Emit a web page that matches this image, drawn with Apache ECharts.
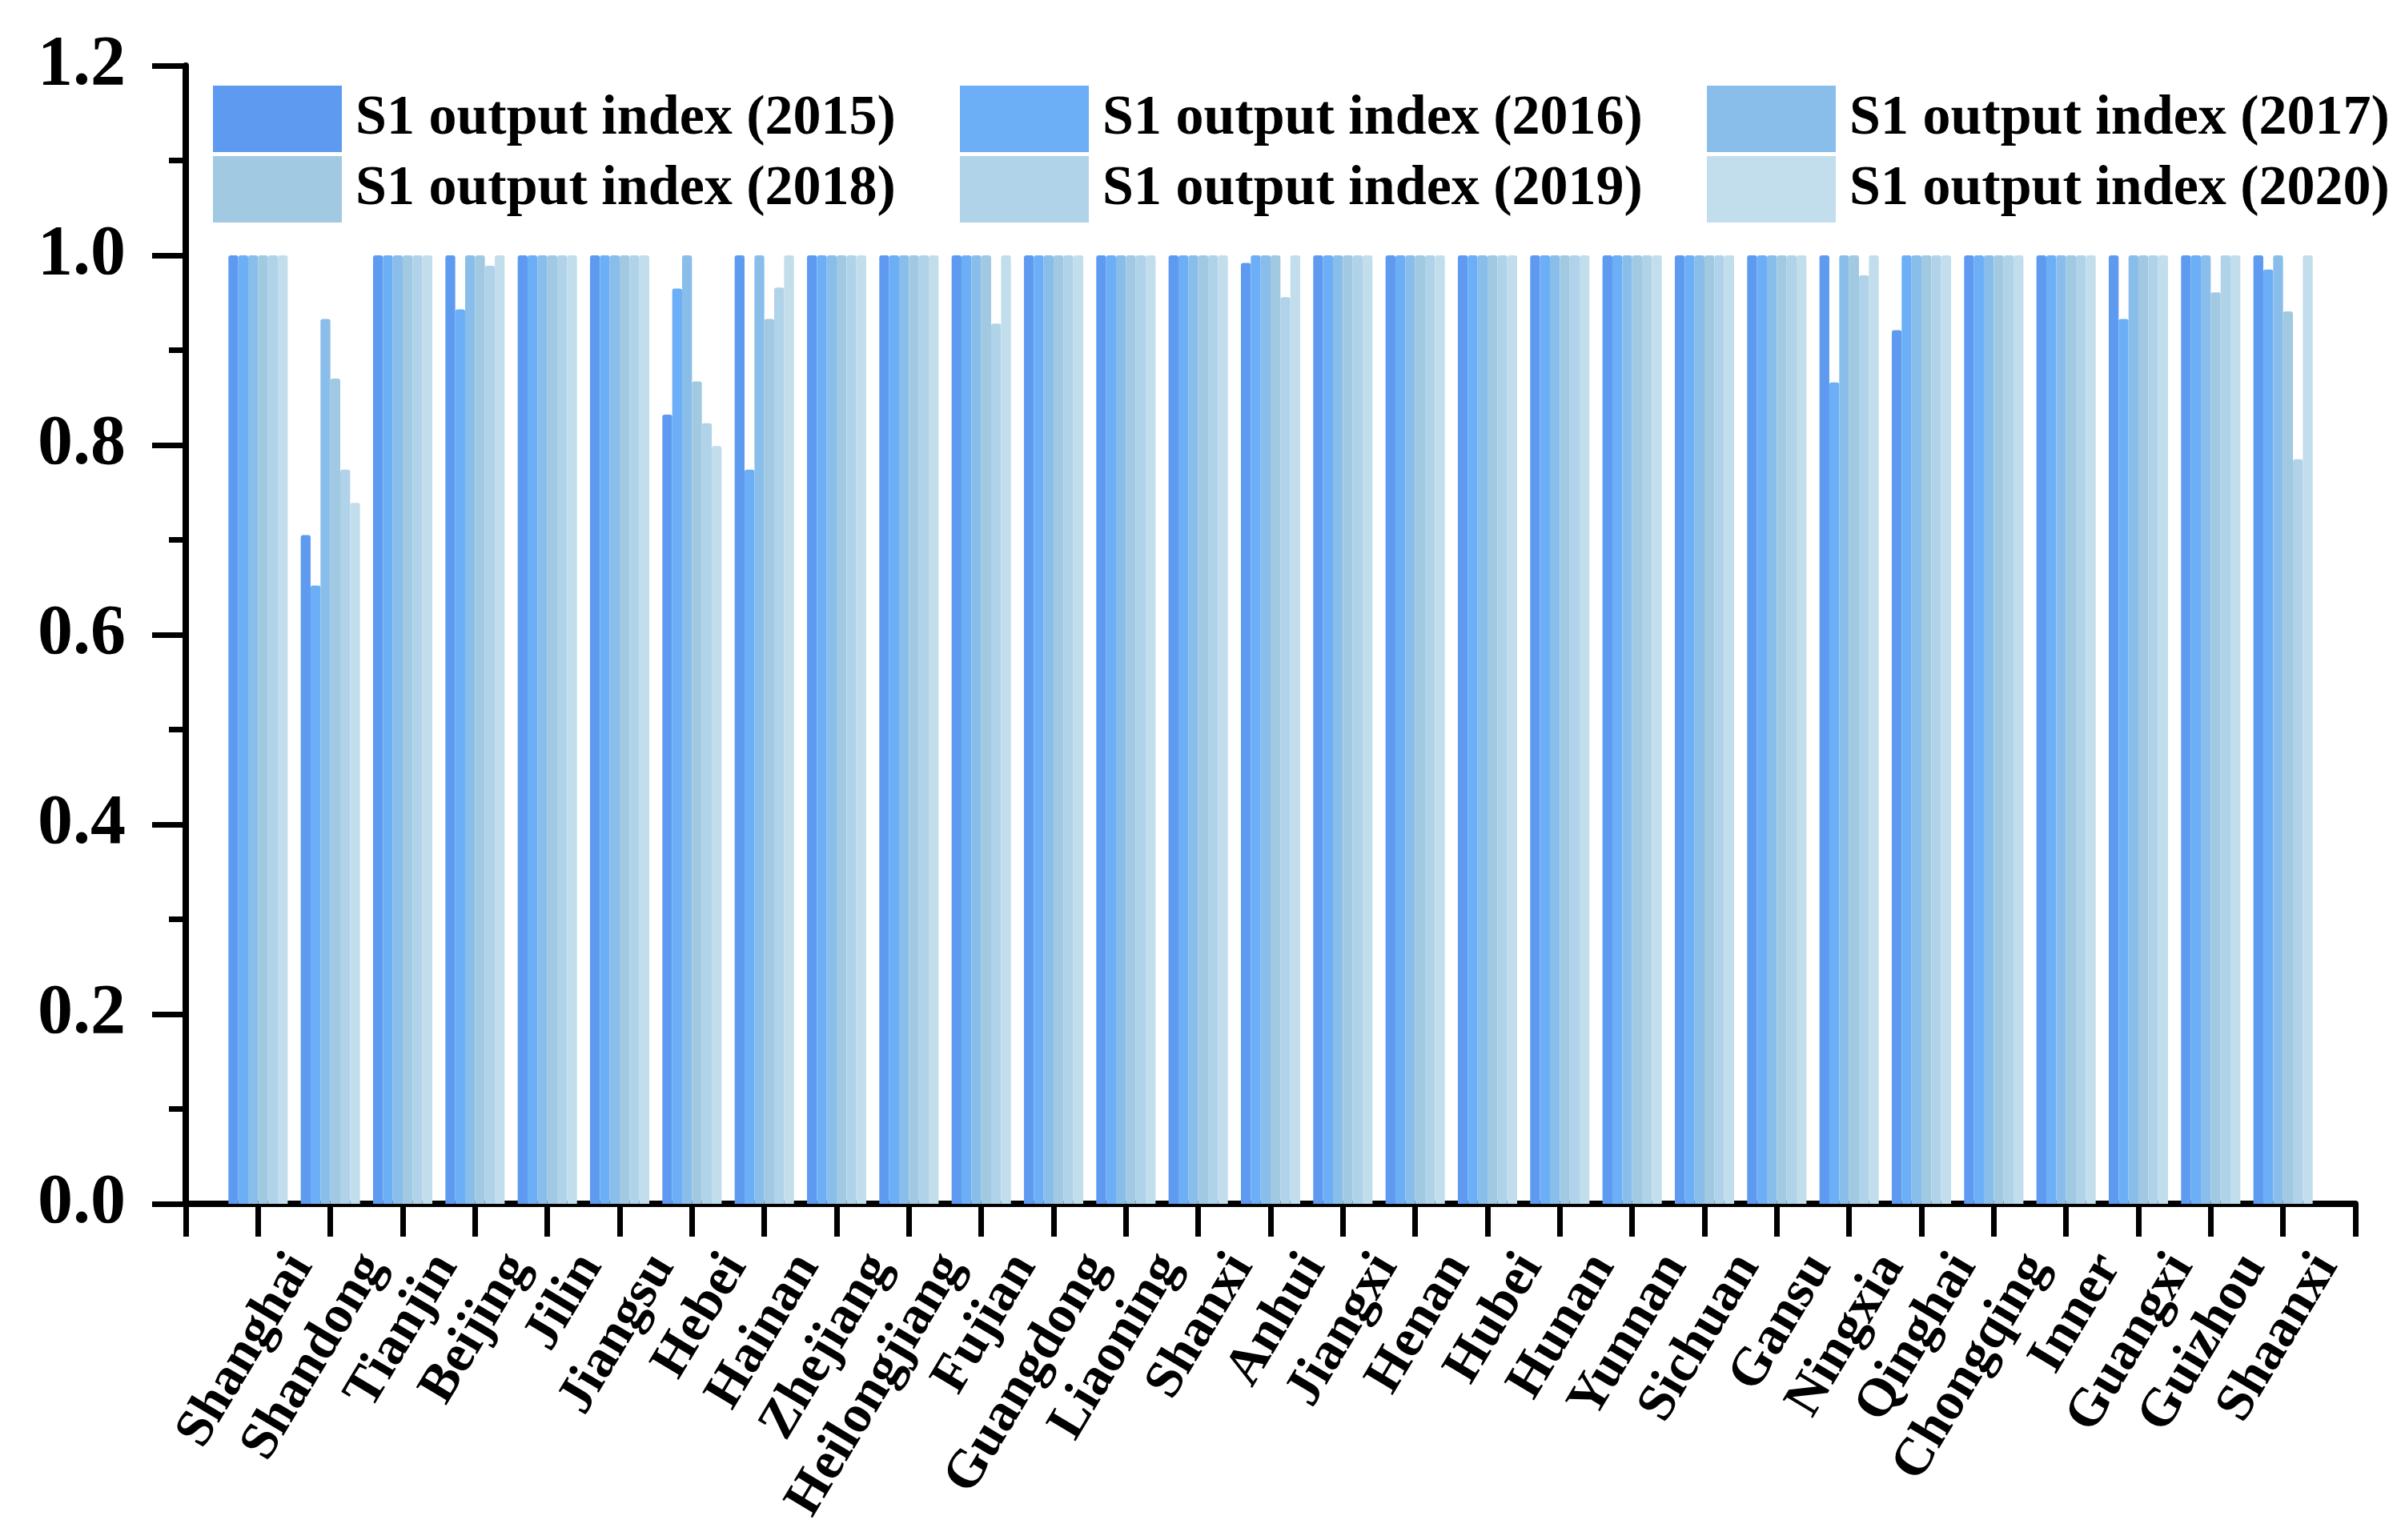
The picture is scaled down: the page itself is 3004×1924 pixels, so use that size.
<!DOCTYPE html>
<html>
<head>
<meta charset="utf-8">
<script src="https://cdn.jsdelivr.net/npm/echarts@6/dist/echarts.min.js"></script>
<style>
html,body{margin:0;padding:0;background:#fff;}
#chart{width:3004px;height:1924px;}
</style>
</head>
<body>
<div id="chart"></div>
<script>
// ---- data ----
var provinces = ['Shanghai','Shandong','Tianjin','Beijing','Jilin','Jiangsu','Hebei','Hainan','Zhejiang','Heilongjiang','Fujian','Guangdong','Liaoning','Shanxi','Anhui','Jiangxi','Henan','Hubei','Hunan','Yunnan','Sichuan','Gansu','Ningxia','Qinghai','Chongqing','Inner','Guangxi','Guizhou','Shaanxi'];
var seriesNames = ['S1 output index (2015)','S1 output index (2016)','S1 output index (2017)','S1 output index (2018)','S1 output index (2019)','S1 output index (2020)'];
var v2015 = [1,0.705,1,1,1,1,0.832,1,1,1,1,1,1,1,0.992,1,1,1,1,1,1,1,1,0.921,1,1,1,1,1];
var v2016 = [1,0.652,1,0.943,1,1,0.965,0.774,1,1,1,1,1,1,1,1,1,1,1,1,1,1,0.866,1,1,1,0.933,1,0.985];
var v2017 = [1,0.933,1,1,1,1,1,1,1,1,1,1,1,1,1,1,1,1,1,1,1,1,1,1,1,1,1,1,1];
var v2018 = [1,0.870,1,1,1,1,0.867,0.933,1,1,1,1,1,1,1,1,1,1,1,1,1,1,1,1,1,1,1,0.961,0.941];
var v2019 = [1,0.774,1,0.989,1,1,0.823,0.966,1,1,0.928,1,1,1,0.956,1,1,1,1,1,1,1,0.979,1,1,1,1,1,0.785];
var v2020 = [1,0.739,1,1,1,1,0.799,1,1,1,1,1,1,1,1,1,1,1,1,1,1,1,1,1,1,1,1,1,1];
var yTicks = [0,0.2,0.4,0.6,0.8,1.0,1.2];

// ---- styling ----
var colors = ['#5E9BF0','#6CAFF7','#8ABEEA','#A2C9E2','#B0D3E9','#C2DEEC'];
var FONT = 'Liberation Serif';
var allValues = [v2015,v2016,v2017,v2018,v2019,v2020];

// category axis with an empty slot at origin and at the end
var cats = [''].concat(provinces).concat(['']);
function pad(arr){ return [null].concat(arr).concat([null]); }

var series = seriesNames.map(function(name,i){
  return {
    name: name,
    type: 'bar',
    data: pad(allValues[i]),
    barGap: '0%',
    barCategoryGap: '18%',
    itemStyle: {color: colors[i], borderRadius: [3,3,0,0]},
    emphasis: {disabled: true},
    animation: false
  };
});

var legendLeft = [266,1199,2132];
var legendTop = [107,195];
var legends = seriesNames.map(function(name,i){
  return {
    data: [name],
    left: legendLeft[i%3],
    top: legendTop[Math.floor(i/3)],
    padding: 0,
    itemWidth: 161,
    itemHeight: 83,
    icon: 'rect',
    selectedMode: false,
    textStyle: {fontFamily: FONT, fontWeight: 'bold', fontSize: 70, color: '#000', padding: [4,0,0,12]}
  };
});

var chart = echarts.init(document.getElementById('chart'), null, {renderer:'canvas', devicePixelRatio:1});
chart.setOption({
  backgroundColor: '#fff',
  animation: false,
  legend: legends,
  grid: {left: 232, right: 62, top: 82, bottom: 420, containLabel: false, outerBoundsMode: 'none'},
  xAxis: {
    type: 'category',
    data: cats,
    boundaryGap: false,
    axisLine: {show: true, onZero: false, lineStyle: {color: '#000', width: 8}},
    axisTick: {show: true, interval: 0, length: 41, lineStyle: {color: '#000', width: 7}},
    axisLabel: {
      interval: 0, rotate: 59, margin: 36,
      align: 'right', verticalAlign: 'middle', lineHeight: 126,
      fontFamily: FONT, fontWeight: 'bold', fontSize: 67, color: '#000',
      formatter: function(v){ return v ? '\n' + v : ''; }
    },
    splitLine: {show: false}
  },
  yAxis: {
    type: 'value',
    min: yTicks[0], max: yTicks[yTicks.length-1], interval: 0.2,
    axisLine: {show: true, lineStyle: {color: '#000', width: 8}},
    axisTick: {show: true, length: 42, lineStyle: {color: '#000', width: 7}},
    minorTick: {show: true, splitNumber: 2, length: 21, lineStyle: {color: '#000', width: 7}},
    axisLabel: {
      margin: 75, fontFamily: FONT, fontWeight: 'bold', fontSize: 88, color: '#000',
      formatter: function(v){ return v.toFixed(1); }
    },
    splitLine: {show: false},
    minorSplitLine: {show: false}
  },
  series: series
});
</script>
</body>
</html>
